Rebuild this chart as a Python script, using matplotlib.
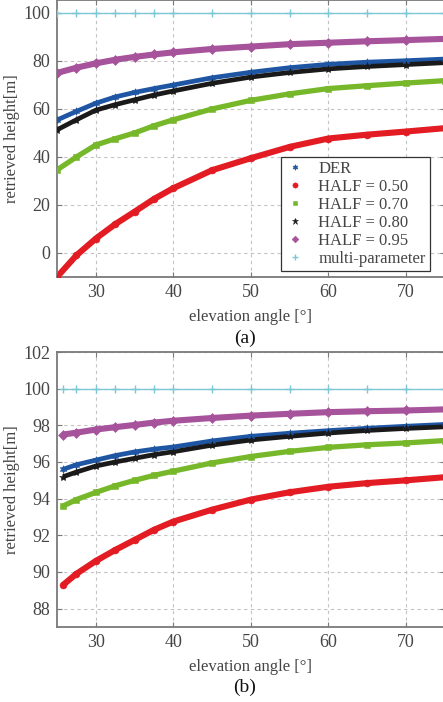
import matplotlib
matplotlib.use("Agg")
import matplotlib.pyplot as plt

plt.rcParams['font.family'] = ['Liberation Serif', 'DejaVu Serif']

# ---------------- data ----------------
angle_a = [25, 27.5, 30, 32.5, 35, 37.5, 40, 45, 50, 55, 60, 65, 70, 75]
der_a   = [55.4, 59.0, 62.4, 65.0, 66.9, 68.5, 70.0, 73.0, 75.3, 77.2, 78.6, 79.5, 80.1, 80.8]
h50_a   = [-10.0, -1.0, 6.0, 12.0, 17.2, 22.5, 27.0, 34.5, 39.5, 44.2, 47.7, 49.3, 50.6, 52.0]
h70_a   = [34.6, 40.0, 45.0, 47.6, 50.0, 53.0, 55.5, 60.0, 63.6, 66.3, 68.5, 69.7, 70.8, 71.8]
h80_a   = [51.3, 55.5, 59.5, 61.8, 63.8, 65.8, 67.5, 70.7, 73.3, 75.2, 76.7, 77.7, 78.5, 79.3]
h95_a   = [75.0, 77.2, 79.0, 80.5, 81.7, 82.7, 83.6, 85.0, 86.0, 87.0, 87.6, 88.2, 88.7, 89.2]
mp_a    = [100, 100, 100, 100, 100, 100, 100, 100, 100, 100, 100, 100, 100, 100]

angle_b = [25.8, 27.5, 30, 32.5, 35, 37.5, 40, 45, 50, 55, 60, 65, 70, 75]
der_b   = [95.6, 95.85, 96.1, 96.35, 96.55, 96.7, 96.82, 97.15, 97.4, 97.57, 97.71, 97.84, 97.95, 98.05]
h50_b   = [89.3, 89.9, 90.6, 91.2, 91.75, 92.3, 92.75, 93.4, 93.95, 94.35, 94.65, 94.85, 95.0, 95.17]
h70_b   = [93.6, 93.95, 94.34, 94.7, 95.0, 95.27, 95.5, 95.95, 96.3, 96.58, 96.8, 96.94, 97.04, 97.17]
h80_b   = [95.2, 95.45, 95.78, 96.0, 96.2, 96.4, 96.56, 96.92, 97.2, 97.4, 97.58, 97.72, 97.83, 97.92]
h95_b   = [97.5, 97.6, 97.77, 97.9, 98.02, 98.15, 98.25, 98.4, 98.53, 98.63, 98.72, 98.77, 98.81, 98.87]
mp_b    = [100, 100, 100, 100, 100, 100, 100, 100, 100, 100, 100, 100, 100, 100]

labels = ['DER', 'HALF = 0.50', 'HALF = 0.70', 'HALF = 0.80', 'HALF = 0.95', 'multi-parameter']
x_ticks = [30, 40, 50, 60, 70]
yticks_a = [0, 20, 40, 60, 80, 100]
yticks_b = [88, 90, 92, 94, 96, 98, 100, 102]

# ---------------- styles ----------------
colors = ['#1f56a3', '#e31b23', '#76b82a', '#1a1a1a', '#a6539c', '#7cc8d4']
markers = [(6, 1, 0), 'o', 's', '*', 'D', '+']
msizes = [5.5, 5.0, 4.2, 6.0, 4.6, 6.0]
lws = [3.4, 4.4, 3.8, 3.4, 4.4, 1.0]
txt_gray = '#454545'
spine_gray = '#7a7a7a'
FS_TICK = 13
FS_LAB = 12
FS_LEG = 12

fig = plt.figure(figsize=(4.43, 7.02), dpi=100)
W, H = 443.0, 702.0
ax_a = fig.add_axes([57 / W, 1 - 277 / H, 387.75 / W, 277 / H])
ax_b = fig.add_axes([57 / W, 1 - 627 / H, 387.75 / W, 275 / H])


def draw(ax, ang, series, show_legend):
    handles = []
    for ys, c, m, ms, lw, lab in zip(series, colors, markers, msizes, lws, labels):
        ax.plot(ang, ys, '-', color=c, lw=lw, solid_capstyle='butt', zorder=2)
        mew = 1.0 if m == '+' else 0.4
        h, = ax.plot(ang, ys, linestyle='none', marker=m, color=c, markersize=ms,
                     markeredgewidth=mew, markeredgecolor=c, label=lab, zorder=3)
        handles.append(h)
    ax.set_xlim(25, 75)
    ax.set_xticks(x_ticks)
    ax.grid(True, color='#c4c4c4', linestyle=(0, (3, 3)), linewidth=0.8)
    ax.set_axisbelow(True)
    for s in ax.spines.values():
        s.set_color(spine_gray)
        s.set_linewidth(1.3)
    ax.tick_params(direction='in', length=3.5, width=0.8, color=spine_gray,
                   labelcolor=txt_gray, labelsize=FS_TICK, top=True, right=True, pad=5)
    ax.set_xlabel('elevation angle [°]', fontsize=FS_LAB, color=txt_gray, labelpad=6)
    ax.set_ylabel('retrieved height[m]', fontsize=FS_LAB, color=txt_gray, labelpad=2)
    if show_legend:
        leg = ax.legend(handles=handles, loc='lower right', bbox_to_anchor=(0.962, 0.022),
                        borderaxespad=0, fancybox=False, framealpha=1, edgecolor='#333333',
                        fontsize=FS_LEG, handlelength=1.2, handletextpad=0.8,
                        labelspacing=0.12, borderpad=0.25, markerscale=0.75)
        leg.get_frame().set_linewidth(0.9)
        for t in leg.get_texts():
            t.set_color(txt_gray)


draw(ax_a, angle_a, [der_a, h50_a, h70_a, h80_a, h95_a, mp_a], True)
ax_a.set_ylim(-10, 105.4)
ax_a.set_yticks(yticks_a)

draw(ax_b, angle_b, [der_b, h50_b, h70_b, h80_b, h95_b, mp_b], False)
ax_b.set_ylim(87, 102)
ax_b.set_yticks(yticks_b)

fig.text(245 / W, 1 - 338 / H, '(a)', ha='center', va='center', fontsize=14, color='#111111')
fig.text(245 / W, 1 - 687 / H, '(b)', ha='center', va='center', fontsize=14, color='#111111')

fig.savefig('out.png', dpi=100)
